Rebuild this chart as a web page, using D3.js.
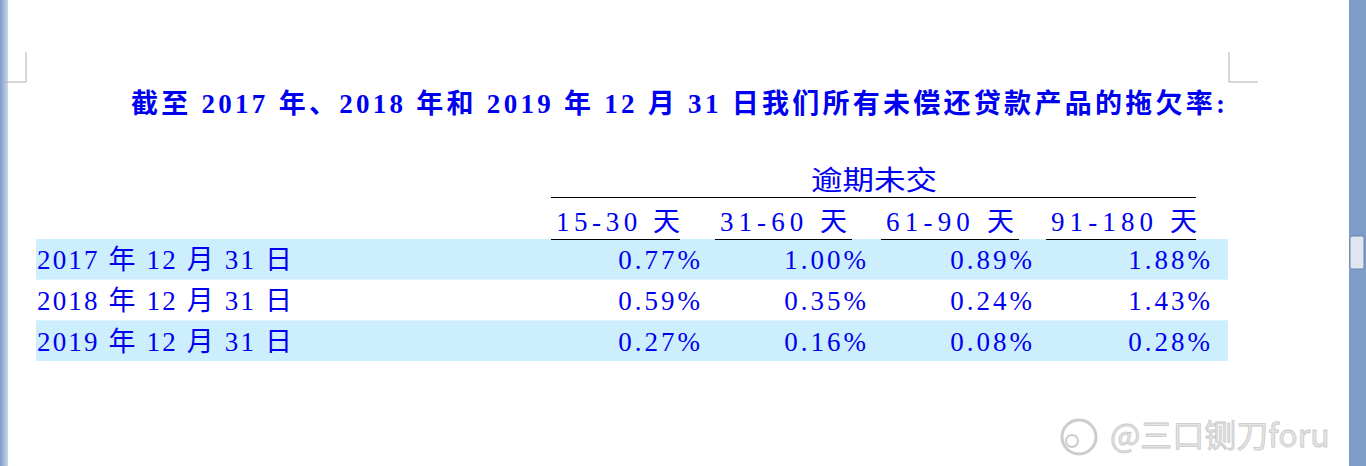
<!DOCTYPE html>
<html><head><meta charset="utf-8">
<script src="https://cdn.jsdelivr.net/npm/d3@7"></script>
<style>body{margin:0;background:#fff;overflow:hidden}</style>
</head><body><svg id="c" width="1366" height="466"></svg>
<script>
const title = "截至 2017 年、2018 年和 2019 年 12 月 31 日我们所有未偿还贷款产品的拖欠率:";
const groupLabel = "逾期未交";
const columns = ["15-30 天", "31-60 天", "61-90 天", "91-180 天"];
const rows = ["2017 年 12 月 31 日", "2018 年 12 月 31 日", "2019 年 12 月 31 日"];
const values = [
  ["0.77%", "1.00%", "0.89%", "1.88%"],
  ["0.59%", "0.35%", "0.24%", "1.43%"],
  ["0.27%", "0.16%", "0.08%", "0.28%"]
];
const svg = d3.select("#c");
const blue = "#0000f0";
const font = "'Liberation Serif','Noto Sans CJK SC',serif";
const defs = svg.append("defs");
const g1 = defs.append("linearGradient").attr("id","lg");
g1.append("stop").attr("offset","0").attr("stop-color","#7f9cc9");
g1.append("stop").attr("offset","1").attr("stop-color","#c9d7ec");
svg.append("rect").attr("x",0).attr("y",0).attr("width",8).attr("height",466).attr("fill","url(#lg)");
svg.append("rect").attr("x",1349).attr("y",0).attr("width",17).attr("height",466).attr("fill","#7f9cc9");
svg.append("rect").attr("x",1350).attr("y",236).attr("width",14).attr("height",33).attr("rx",2).attr("fill","#dfe6f0").attr("stroke","#6a86b3");
const cm = "#b0b0b0";
[[26,52,26,82],[4,82,26,82],[1229,52,1229,82],[1229,82,1258,82]].forEach(l=>
  svg.append("line").attr("x1",l[0]).attr("y1",l[1]).attr("x2",l[2]).attr("y2",l[3]).attr("stroke",cm));
svg.append("text").attr("x",131).attr("y",113).attr("textLength",1094).attr("lengthAdjust","spacing")
  .attr("font-family",font).attr("font-weight","bold").attr("font-size",27).attr("fill",blue).text(title);
const colLeft = [551,715,881,1046], colRight=[680,852,1019,1196], valRight=[703,869,1035,1213];
const headW = [124,127,128,146];
const y = d3.scaleBand().domain(rows).range([239,361]);
svg.selectAll(".band").data(rows.filter((d,i)=>i%2===0)).join("rect")
  .attr("x",36).attr("width",1192).attr("y",d=>y(d)).attr("height",y.bandwidth()).attr("fill","#cdeefc");
svg.append("text").attr("x",811).attr("y",190).attr("textLength",126).attr("lengthAdjust","spacingAndGlyphs").attr("font-family",font)
  .attr("font-size",27).attr("fill",blue).text(groupLabel);
svg.append("line").attr("x1",551).attr("x2",1196).attr("y1",197.5).attr("y2",197.5).attr("stroke","#000");
columns.forEach((c,i)=>{
  svg.append("text").attr("x",colLeft[i]+5).attr("y",231).attr("font-family",font).attr("font-size",27)
    .attr("textLength",headW[i]).attr("lengthAdjust","spacing").attr("fill",blue).text(c);
  svg.append("line").attr("x1",colLeft[i]).attr("x2",colRight[i]).attr("y1",239.5).attr("y2",239.5).attr("stroke","#000");
});
rows.forEach((r,ri)=>{
  const by = y(r)+y.bandwidth()/2+10;
  svg.append("text").attr("x",37).attr("y",by).attr("textLength",255).attr("lengthAdjust","spacing")
    .attr("font-family",font).attr("font-size",27).attr("fill",blue).text(r);
  values[ri].forEach((v,ci)=>svg.append("text").attr("x",valRight[ci]).attr("y",by).attr("text-anchor","end")
    .attr("font-family",font).attr("font-size",27).attr("letter-spacing",3).attr("fill",blue).text(v));
});
svg.append("circle").attr("cx",1079).attr("cy",437).attr("r",17).attr("fill","none").attr("stroke","#ccc").attr("stroke-width",3);
svg.append("circle").attr("cx",1072).attr("cy",441).attr("r",6).attr("fill","none").attr("stroke","#ccc").attr("stroke-width",2);
svg.append("text").attr("x",1110).attr("y",447).attr("font-family","'Noto Sans CJK SC',sans-serif").attr("font-size",32)
  .attr("fill","#e6e6e6").attr("stroke","#c8c8c8").attr("stroke-width",0.8).text("@三口铡刀foru");
</script></body></html>
